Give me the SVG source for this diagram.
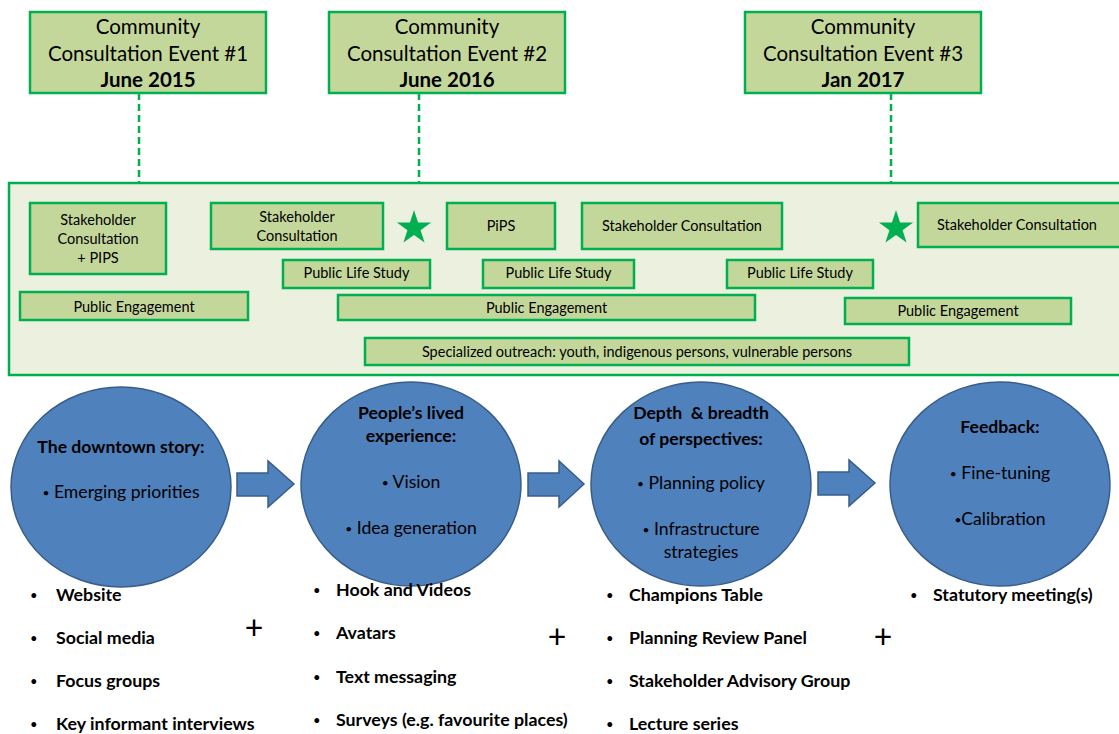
<svg xmlns="http://www.w3.org/2000/svg" width="1119" height="734" viewBox="0 0 1119 734">
<defs>
<style>
text{font-family:Lato,"Liberation Sans",sans-serif;fill:#000}
.ev{fill:#c4d79b;stroke:#00b050;stroke-width:2.5}
.bx{fill:#c4d79b;stroke:#00b050;stroke-width:2.5}
.evt{font-size:20.5px;text-anchor:middle}
.b{font-weight:bold}
.sm{font-size:14.5px;text-anchor:middle}
.dash{stroke:#00b050;stroke-width:2.5;stroke-dasharray:7,4;fill:none}
.cir{fill:#4f81bd;stroke:#385d8a;stroke-width:1.5}
.arr{fill:#4f81bd;stroke:#385d8a;stroke-width:1.5}
.ct{font-size:17.6px;text-anchor:middle}
.li{font-size:17.8px;font-weight:bold}
.dot{font-size:12px}
.bul{font-size:13px}
.plus{font-size:32px;text-anchor:middle}
.star{fill:#00b050}
</style>
<path id="star" d="M0,-18 L4.06,-5.58 L17.12,-5.56 L6.56,2.13 L10.58,14.56 L0,6.9 L-10.58,14.56 L-6.56,2.13 L-17.12,-5.56 L-4.06,-5.58 Z"/>
</defs>
<rect width="1119" height="734" fill="#fff"/>

<g id="connectors">
<line class="dash" x1="139" y1="93" x2="139" y2="183"/>
<line class="dash" x1="419" y1="93" x2="419" y2="183"/>
<line class="dash" x1="891" y1="93" x2="891" y2="183"/>
<polygon class="arr" points="237,473 268,473 268,461 294,484 268,507 268,496 237,496"/>
<polygon class="arr" points="528,473 559,473 559,461 584,484 559,507 559,496 528,496"/>
<polygon class="arr" points="818,472 849,472 849,460 875,483 849,506 849,495 818,495"/>
</g>

<g id="event1">
<rect class="ev" x="30" y="12" width="236" height="81"/>
<text class="evt" x="148" y="34">Community</text>
<text class="evt" x="148" y="61">Consultation Event #1</text>
<text class="evt b" x="148" y="87">June 2015</text>
</g>
<g id="event2">
<rect class="ev" x="329" y="12" width="236" height="81"/>
<text class="evt" x="447" y="34">Community</text>
<text class="evt" x="447" y="61">Consultation Event #2</text>
<text class="evt b" x="447" y="87">June 2016</text>
</g>
<g id="event3">
<rect class="ev" x="745" y="12" width="236" height="81"/>
<text class="evt" x="863" y="34">Community</text>
<text class="evt" x="863" y="61">Consultation Event #3</text>
<text class="evt b" x="863" y="87">Jan 2017</text>
</g>

<g id="timeline">
<rect x="9" y="183" width="1115" height="192" fill="#ebf1de" stroke="#00b050" stroke-width="2.5"/>
</g>

<g id="sc-pips">
<rect class="bx" x="30" y="203" width="136" height="71"/>
<text class="sm" x="98" y="225">Stakeholder</text>
<text class="sm" x="98" y="244">Consultation</text>
<text class="sm" x="98" y="263">+ PIPS</text>
</g>
<g id="sc2">
<rect class="bx" x="211" y="203" width="172" height="46"/>
<text class="sm" x="297" y="222">Stakeholder</text>
<text class="sm" x="297" y="241">Consultation</text>
</g>
<g id="star1"><use href="#star" class="star" x="414" y="228"/></g>
<g id="pips">
<rect class="bx" x="447" y="203" width="108" height="46"/>
<text class="sm" x="501" y="231">PiPS</text>
</g>
<g id="sc3">
<rect class="bx" x="582" y="203" width="200" height="46"/>
<text class="sm" x="682" y="231">Stakeholder Consultation</text>
</g>
<g id="star2"><use href="#star" class="star" x="896" y="228"/></g>
<g id="sc4">
<rect class="bx" x="918" y="203" width="210" height="44"/>
<text class="sm" x="1017" y="230">Stakeholder Consultation</text>
</g>
<g id="pls1">
<rect class="bx" x="283" y="260" width="147" height="28"/>
<text class="sm" x="356.5" y="278">Public Life Study</text>
</g>
<g id="pls2">
<rect class="bx" x="483" y="260" width="151" height="28"/>
<text class="sm" x="558.5" y="278">Public Life Study</text>
</g>
<g id="pls3">
<rect class="bx" x="727" y="260" width="146" height="28"/>
<text class="sm" x="800" y="278">Public Life Study</text>
</g>
<g id="pe1">
<rect class="bx" x="20" y="292" width="228" height="28"/>
<text class="sm" x="134" y="312">Public Engagement</text>
</g>
<g id="pe2">
<rect class="bx" x="338" y="295" width="417" height="25"/>
<text class="sm" x="546.5" y="313">Public Engagement</text>
</g>
<g id="pe3">
<rect class="bx" x="845" y="298" width="226" height="26"/>
<text class="sm" x="958" y="316">Public Engagement</text>
</g>
<g id="outreach">
<rect class="bx" x="365" y="338" width="544" height="27"/>
<text class="sm" x="637" y="357">Specialized outreach: youth, indigenous persons, vulnerable persons</text>
</g>

<g id="phase1">
<ellipse class="cir" cx="121" cy="487" rx="110" ry="100"/>
<text class="ct b" x="121" y="453">The downtown story:</text>
<text class="ct" x="121" y="498"><tspan class="dot" dy="-1">•</tspan><tspan dy="1"> Emerging priorities</tspan></text>
</g>
<g id="phase2">
<ellipse class="cir" cx="411" cy="484" rx="110" ry="102"/>
<text class="ct b" x="411" y="419">People’s lived</text>
<text class="ct b" x="411" y="442">experience:</text>
<text class="ct" x="411" y="488"><tspan class="dot" dy="-1">•</tspan><tspan dy="1"> Vision</tspan></text>
<text class="ct" x="411" y="534"><tspan class="dot" dy="-1">•</tspan><tspan dy="1"> Idea generation</tspan></text>
</g>
<g id="phase3">
<ellipse class="cir" cx="701" cy="484" rx="110" ry="102"/>
<text class="ct b" x="701" y="419" xml:space="preserve">Depth  &amp; breadth</text>
<text class="ct b" x="701" y="445">of perspectives:</text>
<text class="ct" x="701" y="489"><tspan class="dot" dy="-1">•</tspan><tspan dy="1"> Planning policy</tspan></text>
<text class="ct" x="701" y="535"><tspan class="dot" dy="-1">•</tspan><tspan dy="1"> Infrastructure</tspan></text>
<text class="ct" x="701" y="558">strategies</text>
</g>
<g id="phase4">
<ellipse class="cir" cx="1000" cy="484" rx="110" ry="102"/>
<text class="ct b" x="1000" y="433">Feedback:</text>
<text class="ct" x="1000" y="479"><tspan class="dot" dy="-1">•</tspan><tspan dy="1"> Fine-tuning</tspan></text>
<text class="ct" x="1000" y="525"><tspan class="dot" dy="-1">•</tspan><tspan dy="1">Calibration</tspan></text>
</g>

<g id="list1">
<text class="bul" x="30" y="600">•</text><text class="li" x="56" y="601">Website</text>
<text class="bul" x="30" y="643">•</text><text class="li" x="56" y="644">Social media</text>
<text class="bul" x="30" y="686">•</text><text class="li" x="56" y="687">Focus groups</text>
<text class="bul" x="30" y="729">•</text><text class="li" x="56" y="730">Key informant interviews</text>
</g>
<g id="list2">
<text class="bul" x="313" y="595">•</text><text class="li" x="336" y="596">Hook and Videos</text>
<text class="bul" x="313" y="638">•</text><text class="li" x="336" y="639">Avatars</text>
<text class="bul" x="313" y="682">•</text><text class="li" x="336" y="683">Text messaging</text>
<text class="bul" x="313" y="725">•</text><text class="li" x="336" y="726">Surveys (e.g. favourite places)</text>
</g>
<g id="list3">
<text class="bul" x="606" y="600">•</text><text class="li" x="629" y="601">Champions Table</text>
<text class="bul" x="606" y="643">•</text><text class="li" x="629" y="644">Planning Review Panel</text>
<text class="bul" x="606" y="686">•</text><text class="li" x="629" y="687">Stakeholder Advisory Group</text>
<text class="bul" x="606" y="729">•</text><text class="li" x="629" y="730">Lecture series</text>
</g>
<g id="list4">
<text class="bul" x="910" y="600">•</text><text class="li" x="933" y="601">Statutory meeting(s)</text>
</g>
<g id="plus">
<text class="plus" x="254" y="639">+</text>
<text class="plus" x="557" y="648">+</text>
<text class="plus" x="883" y="648">+</text>
</g>
</svg>
